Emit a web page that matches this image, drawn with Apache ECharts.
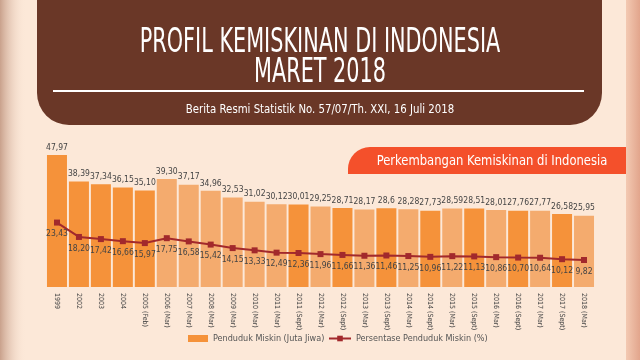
<!DOCTYPE html>
<html>
<head>
<meta charset="utf-8">
<script src="https://cdn.jsdelivr.net/npm/echarts@6/dist/echarts.min.js"></script>
<style>
html,body{margin:0;padding:0;background:#fce8d8;}
#c{width:640px;height:360px;}
</style>
</head>
<body>
<div id="c"></div>
<script>
const categories = ['1999','2002','2003','2004','2005 (Feb)','2006 (Mar)','2007 (Mar)','2008 (Mar)','2009 (Mar)','2010 (Mar)','2011 (Mar)','2011 (Sept)','2012 (Mar)','2012 (Sept)','2013 (Mar)','2013 (Sept)','2014 (Mar)','2014 (Sept)','2015 (Mar)','2015 (Sept)','2016 (Mar)','2016 (Sept)','2017 (Mar)','2017 (Sept)','2018 (Mar)'];
const poorMillions = ['47.97','38.39','37.34','36.15','35.10','39.30','37.17','34.96','32.53','31.02','30.12','30.01','29.25','28.71','28.17','28.6','28.28','27.73','28.59','28.51','28.01','27.76','27.77','26.58','25.95'];
const poorPercent = ['23.43','18.20','17.42','16.66','15.97','17.75','16.58','15.42','14.15','13.33','12.49','12.36','11.96','11.66','11.36','11.46','11.25','10.96','11.22','11.13','10.86','10.70','10.64','10.12','9.82'];

const DARK = '#f5923a', LIGHT = '#f4ab6e';
const barColor = (name) => (/Mar/.test(name) ? LIGHT : DARK);
const NARROW = '"Liberation Sans Narrow","DejaVu Sans Condensed",sans-serif';

const chart = echarts.init(document.getElementById('c'));
chart.setOption({
  backgroundColor: '#fce8d8',
  animation: false,
  graphic: [
    { type: 'rect', shape: {x: 0, y: 0, width: 26, height: 360},
      style: {fill: new echarts.graphic.LinearGradient(0,0,1,0,[{offset:0,color:'#c9a18c'},{offset:1,color:'rgba(252,232,216,0)'}])} },
    { type: 'rect', shape: {x: 626, y: 0, width: 14, height: 360},
      style: {fill: new echarts.graphic.LinearGradient(0,0,1,0,[{offset:0,color:'#f3c9b2'},{offset:1,color:'#e2a58c'}])} },
    { type: 'rect', shape: {x: 37, y: -40, width: 565, height: 165, r: [0,0,32,32]}, style: {fill: '#6a3727'} },
    { type: 'text', x: 320, y: 43, scaleX: 0.68, style: {text: 'PROFIL KEMISKINAN DI INDONESIA', font: '34px ' + NARROW, fill: '#ffffff', textAlign: 'center', textVerticalAlign: 'middle'} },
    { type: 'text', x: 320, y: 73, scaleX: 0.68, style: {text: 'MARET 2018', font: '34px ' + NARROW, fill: '#ffffff', textAlign: 'center', textVerticalAlign: 'middle'} },
    { type: 'rect', shape: {x: 53, y: 90, width: 531, height: 2}, style: {fill: '#ffffff'} },
    { type: 'text', x: 320, y: 110, scaleX: 0.87, style: {text: 'Berita Resmi Statistik No. 57/07/Th. XXI, 16 Juli 2018', font: '13px ' + NARROW, fill: '#ffffff', textAlign: 'center', textVerticalAlign: 'middle'} },
    { type: 'rect', shape: {x: 348, y: 147, width: 278, height: 27, r: [22,0,0,0]}, style: {fill: '#f4502b'} },
    { type: 'text', x: 492, y: 161, scaleX: 0.92, style: {text: 'Perkembangan Kemiskinan di Indonesia', font: '14px ' + NARROW, fill: '#ffffff', textAlign: 'center', textVerticalAlign: 'middle'} }
  ],
  grid: {left: 46, right: 45, top: 135.75, bottom: 73, containLabel: false},
  legend: [
    { data: ['Penduduk Miskin (Juta Jiwa)'], left: 183, top: 329, itemWidth: 20, itemHeight: 7, icon: 'rect',
      textStyle: {fontSize: 9, color: '#555', fontFamily: NARROW} },
    { data: ['Persentase Penduduk Miskin (%)'], left: 323, top: 329, itemWidth: 22, itemHeight: 7,
      textStyle: {fontSize: 9, color: '#555', fontFamily: NARROW} }
  ],
  xAxis: {
    type: 'category', data: categories,
    axisLine: {show: false}, axisTick: {show: false},
    axisLabel: {rotate: -90, margin: 6, fontSize: 7, color: '#444', fontFamily: NARROW, interval: 0}
  },
  yAxis: {type: 'value', min: 0, max: 55, show: false, splitLine: {show: false}},
  series: [
    { name: 'Penduduk Miskin (Juta Jiwa)', type: 'bar', barWidth: 20,
      itemStyle: {color: DARK},
      data: poorMillions.map((v, i) => ({value: Number(v), itemStyle: {color: barColor(categories[i])}})),
      label: {show: true, position: 'top', distance: 3, fontSize: 8.5, color: '#444', fontFamily: NARROW,
        formatter: p => poorMillions[p.dataIndex].replace('.', ',')} },
    { name: 'Persentase Penduduk Miskin (%)', type: 'line', symbol: 'rect', symbolSize: 6,
      lineStyle: {color: '#a2292c', width: 2}, itemStyle: {color: '#a2292c'},
      data: poorPercent.map(Number),
      label: {show: true, position: 'bottom', distance: 4, fontSize: 8.5, color: '#444', fontFamily: NARROW,
        formatter: p => poorPercent[p.dataIndex].replace('.', ',')} }
  ]
});
</script>
</body>
</html>
